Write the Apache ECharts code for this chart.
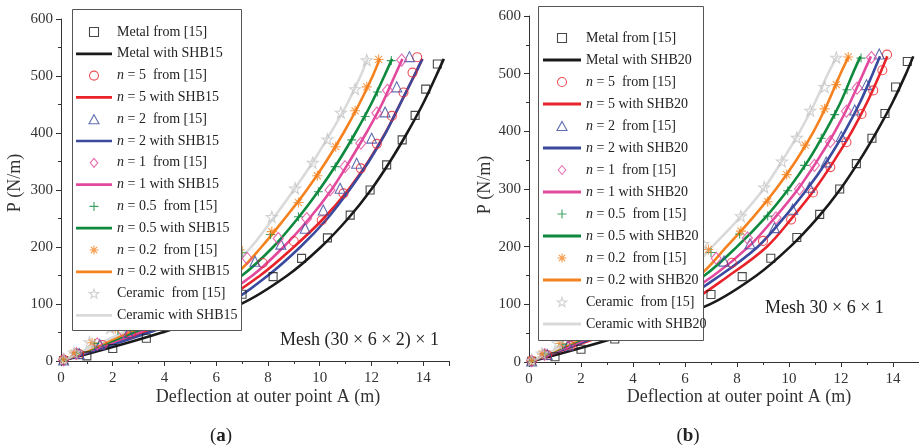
<!DOCTYPE html>
<html><head><meta charset="utf-8">
<script src="https://cdn.jsdelivr.net/npm/echarts/dist/echarts.min.js"></script>
<style>html,body{margin:0;padding:0;background:#fff;}
#a{position:absolute;left:0;top:0;width:460px;height:447px;}
#b{position:absolute;left:460px;top:0;width:459px;height:447px;}</style>
</head><body><div id="a"></div><div id="b"></div>
<script>
// ---------- DATA ----------
// load levels for the SHB curves (N/m)
const P_LEVELS = [0, 50, 100, 150, 200, 250, 300, 350, 400, 450, 500, 530];
// deflections (m) of the SHB15 curves at P_LEVELS (chart a)
const metalLineA = [0, 3.9, 6.95, 8.75, 10.05, 11.1, 11.98, 12.72, 13.38, 13.98, 14.5, 14.8];
const n5LineA    = [0, 3.2, 6.0, 7.7, 9.0, 10.15, 11.1, 11.88, 12.54, 13.1, 13.65, 13.97];
const n2LineA    = [0, 3.4, 6.4, 8.0, 9.25, 10.3, 11.15, 11.9, 12.55, 13.1, 13.65, 13.97];
const n1LineA    = [0, 3.0, 5.7, 7.4, 8.6, 9.6, 10.45, 11.15, 11.8, 12.4, 12.9, 13.2];
const n05LineA   = [0, 2.8, 5.35, 7.0, 8.2, 9.15, 9.98, 10.72, 11.38, 11.98, 12.5, 12.8];
const n02LineA   = [0, 2.6, 5.0, 6.7, 7.75, 8.65, 9.5, 10.25, 10.92, 11.52, 12.05, 12.32];
const cerLineA   = [0, 2.4, 4.7, 6.25, 7.35, 8.2, 9.0, 9.75, 10.42, 11.05, 11.58, 11.85];
// deflections (m) of the SHB20 curves at P_LEVELS (chart b)
const metalLineB = [0, 3.9, 6.95, 8.75, 10.05, 11.1, 11.98, 12.72, 13.38, 13.98, 14.5, 14.78];
const n5LineB    = [0, 3.1, 6.0, 7.7, 9.15, 10.12, 11.0, 11.75, 12.42, 13.0, 13.5, 13.78];
const n2LineB    = [0, 2.95, 5.6, 7.35, 8.8, 9.8, 10.7, 11.48, 12.15, 12.73, 13.22, 13.5];
const n1LineB    = [0, 2.8, 5.35, 7.1, 8.45, 9.45, 10.35, 11.1, 11.77, 12.35, 12.85, 13.15];
const n05LineB   = [0, 2.6, 5.05, 6.75, 8.0, 9.08, 9.98, 10.75, 11.4, 11.98, 12.45, 12.75];
const n02LineB   = [0, 2.45, 4.75, 6.55, 7.6, 8.6, 9.5, 10.28, 10.95, 11.5, 11.98, 12.3];
const cerLineB   = [0, 2.3, 4.5, 6.0, 7.05, 8.1, 9.02, 9.75, 10.42, 11.0, 11.5, 11.85];
// reference points "from [15]" : [deflection, P]
const metalPts = [[0.1,1],[1.0,9],[2.0,22],[3.3,40],[4.5,62],[5.8,88],[7.0,117],[8.2,148],[9.3,180],[10.3,216],[11.18,256],[11.95,300],[12.59,344],[13.19,388],[13.69,431],[14.1,477],[14.55,521]];
const n5Pts    = [[0.1,2],[0.7,12],[1.6,28],[2.7,48],[3.9,72],[5.2,102],[6.5,135],[7.8,172],[9.0,210],[10.08,247],[10.92,294],[11.59,338],[12.21,381],[12.79,430],[13.24,471],[13.59,506],[13.77,533]];
const n2Pts    = [[0.1,2],[0.7,13],[1.5,29],[2.6,50],[3.7,75],[5.0,106],[6.3,140],[7.5,175],[8.5,205],[9.44,233],[10.14,265],[10.79,303],[11.43,347],[12.01,391],[12.53,437],[12.98,481],[13.47,534]];
const n1Pts    = [[0.1,2],[0.6,13],[1.4,30],[2.4,52],[3.5,78],[4.7,110],[6.0,145],[7.2,180],[8.4,215],[9.5,250],[10.4,300],[10.98,341],[11.59,382],[12.21,435],[12.62,475],[13.17,528]];
const n05Pts   = [[0.1,2],[0.6,14],[1.3,31],[2.2,54],[3.3,82],[4.5,115],[5.8,152],[7.0,190],[8.1,222],[9.18,253],[9.95,297],[10.6,341],[11.24,388],[11.76,429],[12.23,472],[12.77,527]];
const n02Pts   = [[0.1,3],[0.5,14],[1.2,32],[2.1,57],[3.1,86],[4.3,120],[5.6,158],[6.9,195],[8.15,227],[9.18,278],[9.91,325],[10.62,376],[11.37,439],[11.82,481],[12.28,529]];
const cerPts   = [[0.1,3],[0.5,15],[1.1,33],[1.9,58],[2.9,90],[4.0,125],[5.3,165],[6.7,205],[8.15,253],[9.05,303],[9.73,348],[10.3,389],[10.82,436],[11.37,477],[11.82,528]];
// axis ticks
const X_MIN = 0, X_MAX = 15, X_STEP = 2;
const Y_MIN = 0, Y_MAX = 600, Y_STEP = 100;

// ---------- STYLE ----------
const FONT = 'Liberation Serif';
const SQ = 'path://M0,0 L10,0 L10,10 L0,10 Z';
const TRI = 'path://M5,0 L10,9 L0,9 Z';
const DIA = 'path://M5,0 L10,6 L5,12 L0,6 Z';
const PLUS = 'path://M5,0 L5,10 M0,5 L10,5';
const AST = 'path://M5,0 L5,10 M0,5 L10,5 M1.5,1.5 L8.5,8.5 M1.5,8.5 L8.5,1.5';
const STAR = 'path://M5,0 L6.18,3.38 L9.76,3.45 L6.9,5.62 L7.94,9.05 L5,7 L2.06,9.05 L3.1,5.62 L0.24,3.45 L3.82,3.38 Z';
const LINEICON = 'path://M0,0 L40,0 L40,3 L0,3 Z';
const GROUPS = [
  {label:'Metal', color:'#1a1a1a', mcolor:'#1a1a1a', symbol:SQ, size:8},
  {label:'n = 5', color:'#e8232a', mcolor:'#e8232a', symbol:'circle', size:9},
  {label:'n = 2', color:'#3a4a9e', mcolor:'#3a4a9e', symbol:TRI, size:10},
  {label:'n = 1', color:'#e2489c', mcolor:'#e2489c', symbol:DIA, size:[10,12]},
  {label:'n = 0.5', color:'#0d8a3e', mcolor:'#0d8a3e', symbol:PLUS, size:9},
  {label:'n = 0.2', color:'#f5821f', mcolor:'#f5821f', symbol:AST, size:10},
  {label:'Ceramic', color:'#dadada', mcolor:'#c4c4c4', symbol:STAR, size:11}
];

function zip(xs){ return xs.map((x,i)=>[x, P_LEVELS[i]]); }

function build(cfg){
  const series = [];
  const legendData = [];
  GROUPS.forEach((g,i)=>{
    const pn = (g.label.startsWith('n') ? g.label + '  from [15]' : (g.label==='Metal' ? 'Metal from [15]' : 'Ceramic  from [15]'));
    const ln = g.label + ' with ' + cfg.tag;
    legendData.push({name:pn, icon:g.symbol,
      itemStyle:{color:'rgba(255,255,255,0)', borderColor:g.mcolor, borderWidth:1.1}});
    legendData.push({name:ln, icon:LINEICON, itemStyle:{color:g.color, borderWidth:0}});
    series.push({
      type:'scatter', name:pn, data:cfg.pts[i], symbol:g.symbol, symbolSize:g.size,
      itemStyle:{color:'rgba(255,255,255,0)', borderColor:g.mcolor, borderWidth:1.1},
      z:3, silent:true
    });
    series.push({
      type:'line', name:ln, data:zip(cfg.lines[i]), smooth:0.35, symbol:'none', showSymbol:false,
      lineStyle:{color:g.color, width:2.6}, itemStyle:{color:g.color}, z:2, silent:true
    });
  });
  const axisCommon = {
    axisLine:{onZero:false, lineStyle:{color:'#333', width:1}},
    axisTick:{inside:false, length:5, lineStyle:{color:'#333'}},
    minorTick:{show:true, splitNumber:2, length:3, lineStyle:{color:'#333'}},
    splitLine:{show:false},
    axisLabel:{fontFamily:FONT, fontSize:15, color:'#333'}
  };
  return {
    animation:false,
    grid:{left:cfg.grid.left, top:cfg.grid.top, width:cfg.grid.width, height:cfg.grid.height, containLabel:false},
    xAxis:Object.assign({type:'value', min:X_MIN, max:X_MAX, interval:X_STEP}, axisCommon,
      {axisLabel:Object.assign({}, axisCommon.axisLabel, {margin:10, showMaxLabel:false})}),
    yAxis:Object.assign({type:'value', min:Y_MIN, max:Y_MAX, interval:Y_STEP}, axisCommon,
      {axisLabel:Object.assign({}, axisCommon.axisLabel, {margin:8})}),
    legend:{
      orient:'vertical', left:cfg.legend.left, top:cfg.legend.top, padding:0,
      itemWidth:cfg.legend.itemWidth, itemHeight:9, itemGap:cfg.legend.gap,
      data:legendData, selectedMode:false, z:10,
      textStyle:{fontFamily:FONT, fontSize:14, color:'#222', lineHeight:14,
        rich:{i:{fontFamily:FONT, fontSize:14, fontStyle:'italic', color:'#222'}}},
      formatter:function(n){ return n.startsWith('n =') ? '{i|n}' + n.slice(1) : n; }
    },
    graphic:[
      {type:'rect', z:8, shape:cfg.box, style:{fill:'#fff', stroke:'#555', lineWidth:1}},
      {type:'text', z:9, x:cfg.ytitle.x, y:cfg.ytitle.y, rotation:Math.PI/2,
        style:{text:'P (N/m)', font:'18px "'+FONT+'"', fill:'#333', align:'center', verticalAlign:'middle'}},
      {type:'text', z:9, x:cfg.xtitle.x, y:cfg.xtitle.y,
        style:{text:'Deflection at outer point A (m)', font:'18px "'+FONT+'"', fill:'#333', align:'center', verticalAlign:'middle'}},
      {type:'text', z:9, x:cfg.mesh.x, y:cfg.mesh.y,
        style:{text:cfg.mesh.text, font:'18px "'+FONT+'"', fill:'#222', align:'left', verticalAlign:'middle'}},
      {type:'text', z:9, x:cfg.cap.x, y:cfg.cap.y,
        style:{text:'({b|'+cfg.cap.letter+'})', font:'19px "'+FONT+'"', fill:'#222', align:'center', verticalAlign:'middle',
          rich:{b:{fontFamily:FONT, fontSize:19, fontWeight:'bold', fill:'#222'}}}}
    ],
    series:series
  };
}

const chartA = echarts.init(document.getElementById('a'), null, {renderer:'canvas'});
chartA.setOption(build({
  tag:'SHB15',
  pts:[metalPts, n5Pts, n2Pts, n1Pts, n05Pts, n02Pts, cerPts],
  lines:[metalLineA, n5LineA, n2LineA, n1LineA, n05LineA, n02LineA, cerLineA],
  grid:{left:61, top:19, width:388, height:342},
  legend:{left:76, top:25, itemWidth:36, gap:7.8},
  box:{x:72.5, y:9.5, width:169, height:321},
  ytitle:{x:15, y:183},
  xtitle:{x:268, y:397},
  mesh:{x:280, y:340, text:'Mesh (30 \u00d7 6 \u00d7 2) \u00d7 1'},
  cap:{x:221, y:436, letter:'a'}
}));

const chartB = echarts.init(document.getElementById('b'), null, {renderer:'canvas'});
chartB.setOption(build({
  tag:'SHB20',
  pts:[metalPts, n5Pts, n2Pts, n1Pts, n05Pts, n02Pts, cerPts],
  lines:[metalLineB, n5LineB, n2LineB, n1LineB, n05LineB, n02LineB, cerLineB],
  grid:{left:69, top:16, width:396, height:346},
  legend:{left:83, top:31, itemWidth:38, gap:8},
  box:{x:78.5, y:6.5, width:165, height:334},
  ytitle:{x:25, y:185},
  xtitle:{x:279, y:397},
  mesh:{x:305, y:308, text:'Mesh 30 \u00d7 6 \u00d7 1'},
  cap:{x:228, y:436, letter:'b'}
}));
</script></body></html>
